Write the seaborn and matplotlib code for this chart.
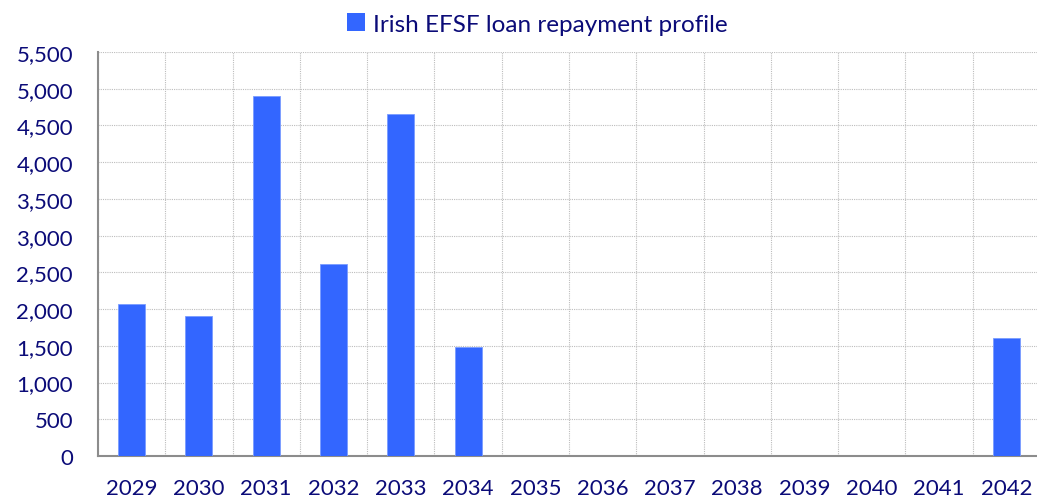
import matplotlib
matplotlib.use("Agg")
import matplotlib.pyplot as plt
import seaborn as sns
import pandas as pd
from matplotlib.ticker import FuncFormatter, MultipleLocator
from matplotlib.patches import Patch

years = ['2029', '2030', '2031', '2032', '2033', '2034', '2035',
         '2036', '2037', '2038', '2039', '2040', '2041', '2042']
repayments = [2070, 1900, 4900, 2620, 4650, 1480, 0,
              0, 0, 0, 0, 0, 0, 1600]
series_name = 'Irish EFSF loan repayment profile'

df = pd.DataFrame({'year': years, 'amount': repayments})

sns.set_style('white')
plt.rcParams['font.family'] = ['Lato', 'DejaVu Sans']
navy = '#0B0B78'
bar_color = '#3366FF'

fig = plt.figure(figsize=(10.37, 5.02), dpi=100)
ax = fig.add_axes([98 / 1037, 45 / 502, 942 / 1037, 404 / 502])

sns.barplot(data=df, x='year', y='amount', color=bar_color, saturation=1, width=0.4,
            edgecolor='#7A9CFF', linewidth=0.6, ax=ax, zorder=3)

ax.set_xlim(-0.5, len(years) - 0.5)
ax.set_ylim(0, 5500)
ax.yaxis.set_major_locator(MultipleLocator(500))
ax.yaxis.set_major_formatter(FuncFormatter(lambda v, p: f'{int(v):,}'))
ax.xaxis.set_minor_locator(MultipleLocator(1, offset=0.5))

ax.grid(axis='y', which='major', color='#BDBDBD', linestyle=(0, (1, 1)), linewidth=0.8, zorder=0)
ax.grid(axis='x', which='minor', color='#BDBDBD', linestyle=(0, (1, 1)), linewidth=0.8, zorder=0)
ax.set_axisbelow(True)

for side in ['top', 'right']:
    ax.spines[side].set_visible(False)
for side in ['left', 'bottom']:
    ax.spines[side].set_color('#8C8C8C')
    ax.spines[side].set_linewidth(1.5)

ax.tick_params(axis='y', which='major', direction='out', length=6, width=1.2,
               color='#8C8C8C', labelsize=16, labelcolor=navy, pad=12)
ax.tick_params(axis='x', which='major', length=0, labelsize=16, labelcolor=navy, pad=16)
ax.tick_params(axis='x', which='minor', length=0)

ax.set_xlabel('')
ax.set_ylabel('')

handles = [Patch(facecolor=bar_color, edgecolor='none', label=series_name)]
fig.legend(handles=handles, loc='upper center', bbox_to_anchor=(0.518, 1.015), frameon=False,
           fontsize=17.5, labelcolor=navy, handlelength=0.75, handleheight=0.75, handletextpad=0.3)

fig.savefig('out.png', dpi=100)
